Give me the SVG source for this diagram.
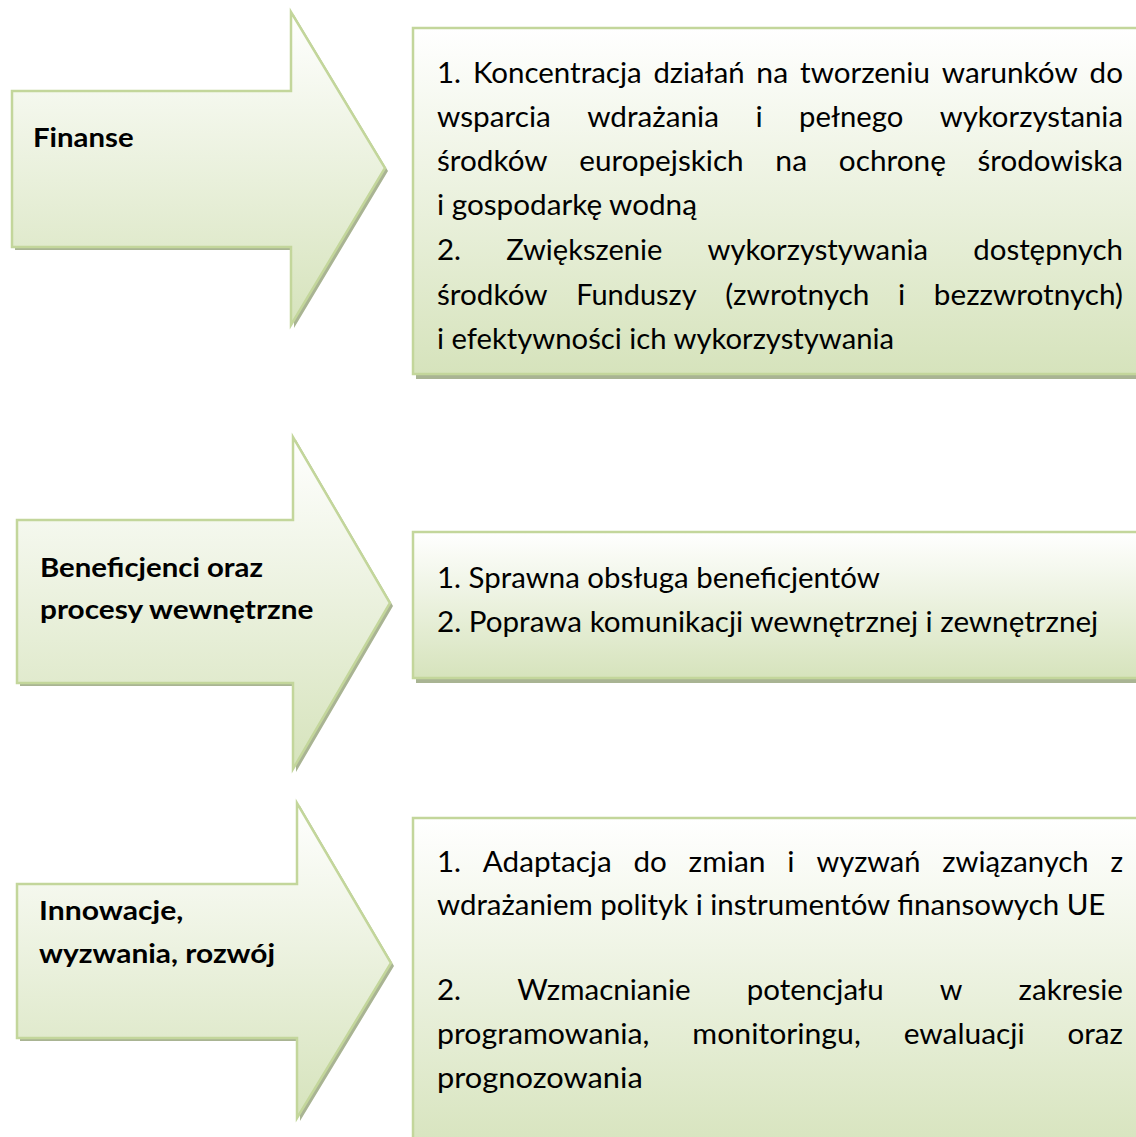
<svg xmlns="http://www.w3.org/2000/svg" width="1136" height="1137" viewBox="0 0 1136 1137">
<defs>
<linearGradient id="gfill" x1="0" y1="0" x2="0" y2="1">
<stop offset="0" stop-color="#ffffff"/>
<stop offset="1" stop-color="#d6e3bc"/>
</linearGradient>
<style>
.shape{fill:url(#gfill);stroke:#c3d69b;stroke-width:2.5;stroke-linejoin:miter}
.shadow{fill:#a9b493}
.lbl{font-family:Lato,"Open Sans","Liberation Sans",sans-serif;font-weight:bold;font-size:27px;fill:#000}
.txt{font-family:Lato,"Open Sans","Liberation Sans",sans-serif;font-size:28px;fill:#000}
</style>
</defs>
<rect width="1136" height="1137" fill="#ffffff"/>

<g id="arrow-finanse">
<polygon class="shadow" points="15,94 294,94 294,15 388,171 294,328 294,250 15,250"/>
<polygon class="shape" points="12,91 291,91 291,12 385,168 291,325 291,247 12,247"/>
<text class="lbl" x="33" y="147" textLength="100.6" lengthAdjust="spacingAndGlyphs">Finanse</text>
</g>

<g id="box-finanse">
<rect class="shadow" x="416" y="31" width="740" height="348"/>
<rect class="shape" x="413" y="28" width="740" height="346"/>
<text class="txt" x="437" y="83" textLength="24.06" lengthAdjust="spacingAndGlyphs">1.</text>
<text class="txt" x="472.91" y="83" textLength="168.71" lengthAdjust="spacingAndGlyphs">Koncentracja</text>
<text class="txt" x="653.47" y="83" textLength="91.04" lengthAdjust="spacingAndGlyphs">działań</text>
<text class="txt" x="756.36" y="83" textLength="31.83" lengthAdjust="spacingAndGlyphs">na</text>
<text class="txt" x="800.04" y="83" textLength="129.91" lengthAdjust="spacingAndGlyphs">tworzeniu</text>
<text class="txt" x="941.8" y="83" textLength="135.99" lengthAdjust="spacingAndGlyphs">warunków</text>
<text class="txt" x="1089.64" y="83" textLength="33.35" lengthAdjust="spacingAndGlyphs">do</text>

<text class="txt" x="437" y="127" textLength="113.8" lengthAdjust="spacingAndGlyphs">wsparcia</text>
<text class="txt" x="587.25" y="127" textLength="131.71" lengthAdjust="spacingAndGlyphs">wdrażania</text>
<text class="txt" x="755.41" y="127" textLength="7.26" lengthAdjust="spacingAndGlyphs">i</text>
<text class="txt" x="799.12" y="127" textLength="104.1" lengthAdjust="spacingAndGlyphs">pełnego</text>
<text class="txt" x="939.67" y="127" textLength="183.32" lengthAdjust="spacingAndGlyphs">wykorzystania</text>

<text class="txt" x="437" y="171" textLength="110.6" lengthAdjust="spacingAndGlyphs">środków</text>
<text class="txt" x="579.31" y="171" textLength="164.33" lengthAdjust="spacingAndGlyphs">europejskich</text>
<text class="txt" x="775.35" y="171" textLength="31.83" lengthAdjust="spacingAndGlyphs">na</text>
<text class="txt" x="838.89" y="171" textLength="106.96" lengthAdjust="spacingAndGlyphs">ochronę</text>
<text class="txt" x="977.56" y="171" textLength="145.44" lengthAdjust="spacingAndGlyphs">środowiska</text>

<text class="txt" x="437" y="215" textLength="259.9" lengthAdjust="spacingAndGlyphs">i gospodarkę wodną</text>

<text class="txt" x="437" y="260" textLength="24.06" lengthAdjust="spacingAndGlyphs">2.</text>
<text class="txt" x="506.3" y="260" textLength="156" lengthAdjust="spacingAndGlyphs">Zwiększenie</text>
<text class="txt" x="707.54" y="260" textLength="220.41" lengthAdjust="spacingAndGlyphs">wykorzystywania</text>
<text class="txt" x="973.19" y="260" textLength="149.81" lengthAdjust="spacingAndGlyphs">dostępnych</text>

<text class="txt" x="437" y="305" textLength="110.6" lengthAdjust="spacingAndGlyphs">środków</text>
<text class="txt" x="576.21" y="305" textLength="120.36" lengthAdjust="spacingAndGlyphs">Funduszy</text>
<text class="txt" x="725.18" y="305" textLength="144.2" lengthAdjust="spacingAndGlyphs">(zwrotnych</text>
<text class="txt" x="897.99" y="305" textLength="7.26" lengthAdjust="spacingAndGlyphs">i</text>
<text class="txt" x="933.86" y="305" textLength="189.15" lengthAdjust="spacingAndGlyphs">bezzwrotnych)</text>

<text class="txt" x="437" y="349" textLength="457" lengthAdjust="spacingAndGlyphs">i efektywności ich wykorzystywania</text>
</g>

<g id="arrow-beneficjenci">
<polygon class="shadow" points="20,523 296,523 296,440 393,606 296,772 296,686 20,686"/>
<polygon class="shape" points="17,520 293,520 293,437 390,603 293,769 293,683 17,683"/>
<text class="lbl" x="40" y="577" textLength="223" lengthAdjust="spacingAndGlyphs">Beneficjenci oraz</text>
<text class="lbl" x="40" y="619" textLength="273.4" lengthAdjust="spacingAndGlyphs">procesy wewnętrzne</text>
</g>

<g id="box-beneficjenci">
<rect class="shadow" x="416" y="535" width="740" height="148"/>
<rect class="shape" x="413" y="532" width="740" height="146"/>
<text class="txt" x="437" y="588" textLength="442.8" lengthAdjust="spacingAndGlyphs">1. Sprawna obsługa beneficjentów</text>
<text class="txt" x="437" y="632" textLength="661.2" lengthAdjust="spacingAndGlyphs">2. Poprawa komunikacji wewnętrznej i zewnętrznej</text>
</g>

<g id="arrow-innowacje">
<polygon class="shadow" points="20,887 300,887 300,806 394,966 300,1121 300,1041 20,1041"/>
<polygon class="shape" points="17,884 297,884 297,803 391,963 297,1118 297,1038 17,1038"/>
<text class="lbl" x="39" y="920" textLength="144.3" lengthAdjust="spacingAndGlyphs">Innowacje,</text>
<text class="lbl" x="39" y="963" textLength="236.1" lengthAdjust="spacingAndGlyphs">wyzwania, rozwój</text>
</g>

<g id="box-innowacje">
<rect class="shadow" x="416" y="821" width="740" height="340"/>
<rect class="shape" x="413" y="818" width="740" height="340"/>
<text class="txt" x="437" y="872" textLength="24.06" lengthAdjust="spacingAndGlyphs">1.</text>
<text class="txt" x="482.87" y="872" textLength="128.8" lengthAdjust="spacingAndGlyphs">Adaptacja</text>
<text class="txt" x="633.48" y="872" textLength="33.35" lengthAdjust="spacingAndGlyphs">do</text>
<text class="txt" x="688.64" y="872" textLength="76.94" lengthAdjust="spacingAndGlyphs">zmian</text>
<text class="txt" x="787.39" y="872" textLength="7.26" lengthAdjust="spacingAndGlyphs">i</text>
<text class="txt" x="816.46" y="872" textLength="104.01" lengthAdjust="spacingAndGlyphs">wyzwań</text>
<text class="txt" x="942.28" y="872" textLength="146.36" lengthAdjust="spacingAndGlyphs">związanych</text>
<text class="txt" x="1110.45" y="872" textLength="12.52" lengthAdjust="spacingAndGlyphs">z</text>

<text class="txt" x="437" y="915" textLength="668.3" lengthAdjust="spacingAndGlyphs">wdrażaniem polityk i instrumentów finansowych UE</text>

<text class="txt" x="437" y="1000" textLength="24.06" lengthAdjust="spacingAndGlyphs">2.</text>
<text class="txt" x="517.21" y="1000" textLength="173.43" lengthAdjust="spacingAndGlyphs">Wzmacnianie</text>
<text class="txt" x="746.79" y="1000" textLength="136.82" lengthAdjust="spacingAndGlyphs">potencjału</text>
<text class="txt" x="939.76" y="1000" textLength="22.67" lengthAdjust="spacingAndGlyphs">w</text>
<text class="txt" x="1018.58" y="1000" textLength="104.42" lengthAdjust="spacingAndGlyphs">zakresie</text>

<text class="txt" x="437" y="1044" textLength="212.49" lengthAdjust="spacingAndGlyphs">programowania,</text>
<text class="txt" x="692.39" y="1044" textLength="168.36" lengthAdjust="spacingAndGlyphs">monitoringu,</text>
<text class="txt" x="903.65" y="1044" textLength="120.97" lengthAdjust="spacingAndGlyphs">ewaluacji</text>
<text class="txt" x="1067.52" y="1044" textLength="55.48" lengthAdjust="spacingAndGlyphs">oraz</text>

<text class="txt" x="437" y="1088" textLength="205.8" lengthAdjust="spacingAndGlyphs">prognozowania</text>
</g>

<g id="connectors"></g>
</svg>
